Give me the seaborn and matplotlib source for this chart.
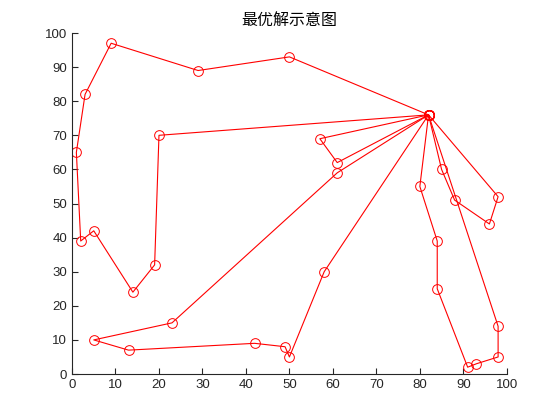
import matplotlib
matplotlib.use("Agg")
import matplotlib.pyplot as plt
import seaborn as sns
import pandas as pd

depot = (82, 76)
route1_x = [50, 29, 9, 3, 1, 2, 5, 14, 19, 20]
route1_y = [93, 89, 97, 82, 65, 39, 42, 24, 32, 70]
route2_x = [57, 61]
route2_y = [69, 62]
route3_x = [61, 23, 5, 13, 42, 49, 50, 58]
route3_y = [59, 15, 10, 7, 9, 8, 5, 30]
route4_x = [80, 84, 84, 91, 93, 98, 98]
route4_y = [55, 39, 25, 2, 3, 5, 14]
route5_x = [85, 88, 96, 98]
route5_y = [60, 51, 44, 52]
routes = [(route1_x, route1_y), (route2_x, route2_y), (route3_x, route3_y),
          (route4_x, route4_y), (route5_x, route5_y)]
title = "最优解示意图"

sns.set_style("white")
plt.rcParams['font.family'] = ['Liberation Sans', 'DejaVu Sans']

fig = plt.figure(figsize=(5.6, 4.2), dpi=100)
ax = fig.add_axes([0.1286, 0.1095, 0.7764, 0.8119])

for i, (rx, ry) in enumerate(routes):
    df = pd.DataFrame({"x": [depot[0]] + rx + [depot[0]],
                       "y": [depot[1]] + ry + [depot[1]],
                       "order": range(len(rx) + 2)})
    sns.lineplot(data=df, x="x", y="y", sort=False, estimator=None, ax=ax,
                 color="red", linewidth=0.8, marker="o", markersize=7,
                 markerfacecolor="none", markeredgecolor="red",
                 markeredgewidth=0.7)

ax.set_xlim(0, 100)
ax.set_ylim(0, 100)
ax.set_xticks(range(0, 101, 10))
ax.set_yticks(range(0, 101, 10))
ax.set_xlabel("")
ax.set_ylabel("")
for s in ["top", "right"]:
    ax.spines[s].set_visible(False)
for s in ["left", "bottom"]:
    ax.spines[s].set_color("#262626")
    ax.spines[s].set_linewidth(0.8)
ax.tick_params(direction="in", length=4, width=0.8, colors="#262626",
               labelsize=9.5, bottom=True, left=True)
ax.set_title(title, fontsize=11.5, color="black",
             family=['Noto Sans CJK SC', 'DejaVu Sans'], pad=6)

fig.savefig("out.png", dpi=100)
